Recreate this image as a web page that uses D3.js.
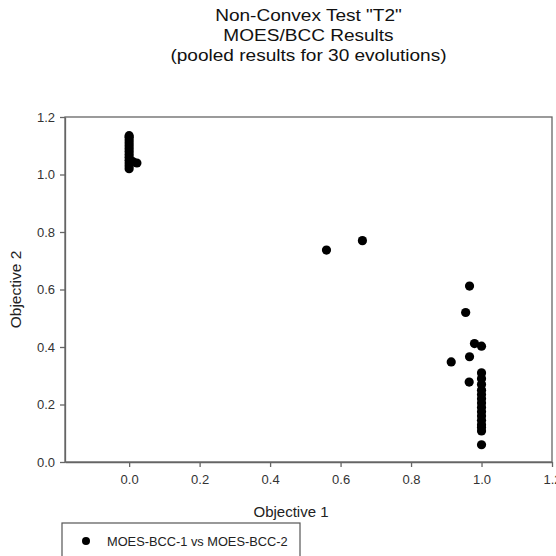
<!DOCTYPE html>
<html>
  <head>
    <meta charset="UTF-8">
    <style>
      body {
        margin: 0;
        background: white;
        font-family: "Liberation Sans", Arial, sans-serif;
      }

      .axis text {
        fill: #333;
        font-size: 13px;
      }

      .axis .tick line,
      .axis .domain {
        stroke: #666;
        stroke-width: 1.3;
      }
    </style>
    <script src="https://d3js.org/d3.v7.min.js"></script>
  </head>

  <body>
    <svg id="chart"></svg>

    <script type="text/javascript">
      // pooled points
      const obj1 = [
        0, 0, 0, 0, 0, 0, 0, 0, 0, 0, 0, 0, 0, 0.01, 0.022,
        0.56, 0.662,
        0.966, 0.955, 0.98, 1.0, 0.966, 0.914, 0.965,
        1.0, 1.0, 1.0, 1.0, 1.0, 1.0, 1.0, 1.0, 1.0, 1.0, 1.0, 1.0, 1.0, 1.0, 1.0
      ]
      const obj2 = [
        1.02, 1.03, 1.04, 1.05, 1.06, 1.07, 1.08, 1.09, 1.10, 1.11, 1.12, 1.13, 1.135, 1.045, 1.04,
        0.737, 0.77,
        0.612, 0.52, 0.412, 0.403, 0.366, 0.348, 0.278,
        0.31, 0.29, 0.27, 0.25, 0.235, 0.22, 0.205, 0.19, 0.175, 0.16, 0.145, 0.13, 0.12, 0.108, 0.06
      ]
      const xTicks = [0, 0.2, 0.4, 0.6, 0.8, 1.0, 1.2]
      const yTicks = [0, 0.2, 0.4, 0.6, 0.8, 1.0, 1.2]
      const titleLines = ['Non-Convex Test "T2"', 'MOES/BCC Results', '(pooled results for 30 evolutions)']
      const seriesName = 'MOES-BCC-1 vs MOES-BCC-2'

      const width = 556
      const height = 556
      const margin = { top: 117, right: 4, bottom: 94, left: 65 }
      const bodyWidth = width - margin.left - margin.right
      const bodyHeight = height - margin.top - margin.bottom

      const svg = d3.select('#chart')
        .attr('width', width)
        .attr('height', height)

      const xScale = d3.scaleLinear()
        .domain([-0.182, 1.2])
        .range([0, bodyWidth])

      const yScale = d3.scaleLinear()
        .domain([0, 1.2])
        .range([bodyHeight, 0])

      const g = svg.append('g')
        .attr('transform', `translate(${margin.left}, ${margin.top})`)

      // title (the original is a bit stretched sideways)
      const cx = margin.left + bodyWidth / 2
      svg.append('text')
        .attr('transform', `translate(${cx}, 21) scale(1.19, 1)`)
        .attr('text-anchor', 'middle')
        .attr('font-size', 16)
        .attr('fill', '#111')
        .selectAll('tspan')
        .data(titleLines)
        .join('tspan')
          .attr('x', 0)
          .attr('dy', (d, i) => i === 0 ? 0 : 20.2)
          .text(d => d)

      // axes
      g.append('g')
        .attr('class', 'axis')
        .attr('transform', `translate(0, ${bodyHeight})`)
        .call(d3.axisBottom(xScale)
          .tickValues(xTicks)
          .tickFormat(d3.format('.1f'))
          .tickSize(5)
          .tickSizeOuter(0)
          .tickPadding(8))

      g.append('g')
        .attr('class', 'axis')
        .call(d3.axisLeft(yScale)
          .tickValues(yTicks)
          .tickFormat(d3.format('.1f'))
          .tickSize(5)
          .tickSizeOuter(0)
          .tickPadding(5))

      // frame
      g.append('rect')
        .attr('width', bodyWidth)
        .attr('height', bodyHeight)
        .attr('fill', 'none')
        .attr('stroke', '#666')
        .attr('stroke-width', 1.3)

      // axis titles
      svg.append('text')
        .attr('x', 291)
        .attr('y', 517)
        .attr('text-anchor', 'middle')
        .attr('font-size', 15)
        .attr('fill', '#222')
        .text('Objective 1')

      svg.append('text')
        .attr('transform', `translate(21, ${margin.top + bodyHeight / 2}) rotate(-90)`)
        .attr('text-anchor', 'middle')
        .attr('font-size', 15.5)
        .attr('fill', '#222')
        .text('Objective 2')

      // points
      g.selectAll('circle.pt')
        .data(obj1.map((x, i) => ({ x, y: obj2[i] })))
        .join('circle')
          .attr('class', 'pt')
          .attr('cx', d => xScale(d.x))
          .attr('cy', d => yScale(d.y))
          .attr('r', 4.6)
          .attr('fill', 'black')

      // legend
      const legend = svg.append('g')
        .attr('transform', 'translate(62, 523)')

      legend.append('rect')
        .attr('width', 238)
        .attr('height', 40)
        .attr('fill', 'white')
        .attr('stroke', '#555')
        .attr('stroke-width', 1.2)

      legend.append('circle')
        .attr('cx', 24)
        .attr('cy', 18)
        .attr('r', 4)
        .attr('fill', 'black')

      legend.append('text')
        .attr('x', 45)
        .attr('y', 22.5)
        .attr('font-size', 12.8)
        .attr('fill', '#222')
        .text(seriesName)
    </script>
  </body>
</html>
